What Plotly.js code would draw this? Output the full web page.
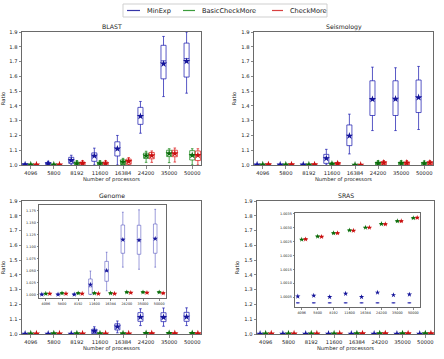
<!DOCTYPE html>
<html>
<head>
<meta charset="utf-8">
<script src="https://cdn.plot.ly/plotly-3.0.1.min.js"></script>
<style>html,body{margin:0;padding:0;background:#fff;}#chart{width:444px;height:359px;}</style>
</head>
<body>
<div id="chart"></div>
<script>
// ---------- data ----------
const categories = ['4096', '5800', '8192', '11600', '16384', '24200', '35000', '50000'];
const seriesNames = ['MinExp', 'BasicCheckMore', 'CheckMore'];
const panelTitles = ['BLAST', 'Seismology', 'Genome', 'SRAS'];
// each row: [lower whisker, q1, median, q3, upper whisker, mean]
const blastMinExp = [
  [1.0, 1.0, 1.002, 1.005, 1.008, 1.003],
  [1.0, 1.003, 1.008, 1.015, 1.025, 1.01],
  [1.0, 1.011, 1.03, 1.052, 1.066, 1.032],
  [1.0, 1.025, 1.06, 1.082, 1.114, 1.062],
  [1.0, 1.061, 1.11, 1.157, 1.2, 1.11],
  [1.215, 1.275, 1.335, 1.39, 1.43, 1.33],
  [1.463, 1.583, 1.705, 1.81, 1.87, 1.685],
  [1.486, 1.595, 1.72, 1.825, 1.9, 1.702]
];
const blastBasic = [
  [1.0, 1.0, 1.001, 1.003, 1.005, 1.002],
  [1.0, 1.0, 1.001, 1.003, 1.005, 1.002],
  [1.0, 1.0, 1.008, 1.02, 1.03, 1.01],
  [1.0, 1.0, 1.008, 1.02, 1.03, 1.01],
  [1.0, 1.003, 1.018, 1.035, 1.045, 1.02],
  [1.018, 1.045, 1.062, 1.08, 1.093, 1.063],
  [1.016, 1.057, 1.078, 1.1, 1.11, 1.078],
  [1.0, 1.034, 1.065, 1.097, 1.11, 1.066]
];
const blastCheck = [
  [1.0, 1.0, 1.001, 1.003, 1.005, 1.002],
  [1.0, 1.0, 1.001, 1.003, 1.005, 1.002],
  [1.0, 1.0, 1.01, 1.02, 1.03, 1.012],
  [1.0, 1.0, 1.01, 1.02, 1.03, 1.011],
  [1.0, 1.005, 1.023, 1.04, 1.05, 1.025],
  [1.018, 1.042, 1.064, 1.085, 1.095, 1.064],
  [1.02, 1.056, 1.078, 1.1, 1.115, 1.078],
  [1.0, 1.03, 1.066, 1.095, 1.11, 1.066]
];
const seisMinExp = [
  [1.0, 1.0, 1.001, 1.003, 1.005, 1.002],
  [1.0, 1.0, 1.001, 1.003, 1.005, 1.002],
  [1.0, 1.0, 1.001, 1.003, 1.005, 1.002],
  [1.0, 1.011, 1.048, 1.072, 1.106, 1.045],
  [1.075, 1.131, 1.2, 1.271, 1.344, 1.197],
  [1.233, 1.335, 1.445, 1.57, 1.662, 1.445],
  [1.233, 1.335, 1.447, 1.57, 1.658, 1.447],
  [1.24, 1.355, 1.457, 1.575, 1.667, 1.457]
];
const seisBasic = [
  [1.0, 1.0, 1.001, 1.003, 1.005, 1.002],
  [1.0, 1.0, 1.001, 1.003, 1.005, 1.002],
  [1.0, 1.0, 1.001, 1.003, 1.005, 1.002],
  [1.0, 1.003, 1.007, 1.012, 1.015, 1.008],
  [1.0, 1.0, 1.0, 1.001, 1.002, 1.001],
  [1.0, 1.0, 1.01, 1.02, 1.03, 1.012],
  [1.0, 1.0, 1.01, 1.02, 1.03, 1.012],
  [1.0, 1.0, 1.008, 1.018, 1.028, 1.01]
];
const seisCheck = [
  [1.0, 1.0, 1.002, 1.004, 1.006, 1.003],
  [1.0, 1.0, 1.002, 1.004, 1.006, 1.003],
  [1.0, 1.0, 1.002, 1.004, 1.006, 1.003],
  [1.0, 1.003, 1.009, 1.015, 1.018, 1.01],
  [1.0, 1.0, 1.0, 1.001, 1.002, 1.001],
  [1.0, 1.0, 1.013, 1.022, 1.03, 1.015],
  [1.0, 1.0, 1.012, 1.02, 1.03, 1.014],
  [1.0, 1.0, 1.013, 1.022, 1.03, 1.015]
];
const genomeMinExp = [
  [1.0, 1.0, 1.0, 1.0005, 1.001, 1.0005],
  [1.0, 1.0, 1.0, 1.0005, 1.001, 1.0005],
  [1.0, 1.0, 1.0, 1.0005, 1.001, 1.0005],
  [1.0, 1.0007, 1.016, 1.0325, 1.049, 1.0207],
  [1.008, 1.0277, 1.048, 1.069, 1.088, 1.05],
  [1.057, 1.0858, 1.115, 1.1445, 1.171, 1.114],
  [1.0526, 1.0837, 1.113, 1.144, 1.176, 1.113],
  [1.057, 1.0858, 1.116, 1.1466, 1.177, 1.116]
];
const genomeBasic = [
  [1.002, 1.002, 1.002, 1.002, 1.002, 1.002],
  [1.003, 1.003, 1.003, 1.003, 1.003, 1.003],
  [1.003, 1.003, 1.003, 1.003, 1.003, 1.003],
  [1.003, 1.003, 1.003, 1.003, 1.003, 1.003],
  [1.003, 1.003, 1.003, 1.003, 1.003, 1.003],
  [1.005, 1.005, 1.005, 1.005, 1.005, 1.005],
  [1.005, 1.005, 1.005, 1.005, 1.005, 1.005],
  [1.005, 1.005, 1.005, 1.005, 1.005, 1.005]
];
const genomeCheck = [
  [1.002, 1.002, 1.002, 1.002, 1.002, 1.002],
  [1.002, 1.002, 1.002, 1.002, 1.002, 1.002],
  [1.002, 1.002, 1.002, 1.002, 1.002, 1.002],
  [1.002, 1.002, 1.002, 1.002, 1.002, 1.002],
  [1.002, 1.002, 1.002, 1.002, 1.002, 1.002],
  [1.004, 1.004, 1.004, 1.004, 1.004, 1.004],
  [1.004, 1.004, 1.004, 1.004, 1.004, 1.004],
  [1.003, 1.003, 1.003, 1.003, 1.003, 1.003]
];
const srasMinExp = [
  [1.0003, 1.0003, 1.0003, 1.0003, 1.0003, 1.00053],
  [1.0003, 1.0003, 1.0003, 1.0003, 1.0003, 1.00056],
  [1.0003, 1.0003, 1.0003, 1.0003, 1.0003, 1.00051],
  [1.0003, 1.0003, 1.0003, 1.0003, 1.0003, 1.00063],
  [1.0003, 1.0003, 1.0003, 1.0003, 1.0003, 1.00051],
  [1.0003, 1.0003, 1.0003, 1.0003, 1.0003, 1.00067],
  [1.0003, 1.0003, 1.0003, 1.0003, 1.0003, 1.00058],
  [1.0003, 1.0003, 1.0003, 1.0003, 1.0003, 1.0006]
];
const srasBasic = [
  [1.00257, 1.00257, 1.00257, 1.00257, 1.00257, 1.00257],
  [1.00268, 1.00268, 1.00268, 1.00268, 1.00268, 1.00268],
  [1.0028, 1.0028, 1.0028, 1.0028, 1.0028, 1.0028],
  [1.0029, 1.0029, 1.0029, 1.0029, 1.0029, 1.0029],
  [1.003, 1.003, 1.003, 1.003, 1.003, 1.003],
  [1.00313, 1.00313, 1.00313, 1.00313, 1.00313, 1.00313],
  [1.00323, 1.00323, 1.00323, 1.00323, 1.00323, 1.00323],
  [1.00334, 1.00334, 1.00334, 1.00334, 1.00334, 1.00334]
];
const srasCheck = [
  [1.00258, 1.00258, 1.00258, 1.00258, 1.00258, 1.00258],
  [1.00267, 1.00267, 1.00267, 1.00267, 1.00267, 1.00267],
  [1.0028, 1.0028, 1.0028, 1.0028, 1.0028, 1.0028],
  [1.00289, 1.00289, 1.00289, 1.00289, 1.00289, 1.00289],
  [1.003, 1.003, 1.003, 1.003, 1.003, 1.003],
  [1.00312, 1.00312, 1.00312, 1.00312, 1.00312, 1.00312],
  [1.00323, 1.00323, 1.00323, 1.00323, 1.00323, 1.00323],
  [1.00335, 1.00335, 1.00335, 1.00335, 1.00335, 1.00335]
];

// ---------- styling ----------
const FONT = 'DejaVu Sans, Liberation Sans, sans-serif';
const W = 444, H = 359;
const boxColors = ['rgba(25,25,175,0.72)', 'rgba(20,135,20,0.75)', 'rgba(220,20,20,0.72)'];
const insetBoxColors = ['rgba(50,50,180,0.6)', 'rgba(20,135,20,0.75)', 'rgba(220,20,20,0.72)'];
const meanColors = ['#14149a', '#0b6b0b', '#c81010'];
const legendColors = ['#3535a8', '#3c9c3c', '#d84040'];
const offsets = [-0.245, 0, 0.245];
const frame = '#6a6a6a';

const panels = [
  {data: [blastMinExp, blastBasic, blastCheck], xa: 'x', ya: 'y'},
  {data: [seisMinExp, seisBasic, seisCheck], xa: 'x2', ya: 'y2'},
  {data: [genomeMinExp, genomeBasic, genomeCheck], xa: 'x3', ya: 'y3'},
  {data: [srasMinExp, srasBasic, srasCheck], xa: 'x4', ya: 'y4'},
  {data: [genomeMinExp, genomeBasic, genomeCheck], xa: 'x5', ya: 'y5', inset: true},
  {data: [srasMinExp, srasBasic, srasCheck], xa: 'x6', ya: 'y6', inset: true}
];

const traces = [];
panels.forEach(p => {
  p.data.forEach((rows, s) => {
    const xs = categories.map((c, i) => i + offsets[s]);
    traces.push({
      type: 'box', xaxis: p.xa, yaxis: p.ya, x: xs,
      lowerfence: rows.map(r => r[0]), q1: rows.map(r => r[1]),
      median: rows.map(r => r[2]), q3: rows.map(r => r[3]),
      upperfence: rows.map(r => r[4]),
      width: 0.22, whiskerwidth: 0.5,
      line: {color: p.inset ? insetBoxColors[s] : boxColors[s], width: p.inset ? 0.8 : 1},
      fillcolor: 'rgba(0,0,0,0)', boxpoints: false,
      showlegend: false, hoverinfo: 'skip', name: seriesNames[s]
    });
    traces.push({
      type: 'scatter', mode: 'markers', xaxis: p.xa, yaxis: p.ya, x: xs,
      y: rows.map(r => r[5]),
      marker: {symbol: 'star', size: p.inset ? 4 : 5.5, color: meanColors[s], line: {width: 0}},
      showlegend: false, hoverinfo: 'skip', name: seriesNames[s]
    });
  });
});

const dx = (a, b) => [a / W, b / W];
const dy = (top, bottom) => [1 - bottom / H, 1 - top / H];

function xAxis(domain, anchor, inset) {
  return {
    domain: domain, anchor: anchor, range: inset ? [-0.42, 7.42] : [-0.38, 7.38],
    tickmode: 'array', tickvals: categories.map((c, i) => i), ticktext: categories,
    showline: true, mirror: true, linecolor: frame, linewidth: 1,
    ticks: 'outside', ticklen: inset ? 1.5 : 2.5, tickcolor: frame, tickwidth: 0.8,
    showgrid: false, zeroline: false,
    tickfont: {family: FONT, size: inset ? 3.4 : 5.2, color: '#222'},
    title: inset ? {text: ''} : {text: 'Number of processors', font: {family: FONT, size: 5.2, color: '#222'}, standoff: 1}
  };
}
function yAxis(domain, anchor) {
  return {
    domain: domain, anchor: anchor, range: [1.0, 1.9], dtick: 0.1, tick0: 1.0, tickformat: '.1f',
    showline: true, mirror: true, linecolor: frame, linewidth: 1,
    ticks: 'outside', ticklen: 2.5, tickcolor: frame, tickwidth: 0.8,
    showgrid: false, zeroline: false,
    tickfont: {family: FONT, size: 5.2, color: '#222'},
    title: {text: 'Ratio', font: {family: FONT, size: 5.2, color: '#222'}, standoff: 4}
  };
}

// legend drawn as a framed key (line sample + label) across the top
const legendFrame = {x0: 123, x1: 327, y0: 4, y1: 17};
const legendLineX = [[127, 140], [183, 195], [272, 283]];
const legendMidY = 10.5;
const shapes = [{type: 'rect', xref: 'paper', yref: 'paper',
  x0: legendFrame.x0 / W, x1: legendFrame.x1 / W, y0: 1 - legendFrame.y1 / H, y1: 1 - legendFrame.y0 / H,
  line: {color: '#cfcfcf', width: 1}, fillcolor: 'rgba(255,255,255,0.9)', layer: 'above'}];
const legendAnns = [];
seriesNames.forEach((n, s) => {
  shapes.push({type: 'line', xref: 'paper', yref: 'paper',
    x0: legendLineX[s][0] / W, x1: legendLineX[s][1] / W, y0: 1 - legendMidY / H, y1: 1 - legendMidY / H,
    line: {color: legendColors[s], width: 1.2}, layer: 'above'});
  legendAnns.push({text: n, xref: 'paper', yref: 'paper', x: (legendLineX[s][1] + 4.5) / W, y: 1 - legendMidY / H,
    xanchor: 'left', yanchor: 'middle', showarrow: false, font: {family: FONT, size: 6.6, color: '#222'}});
});

const layout = {
  width: W, height: H, margin: {l: 0, r: 0, t: 0, b: 0},
  paper_bgcolor: '#fff', plot_bgcolor: '#fff',
  font: {family: FONT, color: '#222'},
  boxmode: 'overlay', showlegend: false,
  xaxis: xAxis(dx(22, 201), 'y'), yaxis: yAxis(dy(32, 165), 'x'),
  xaxis2: xAxis(dx(254, 433), 'y2'), yaxis2: yAxis(dy(32, 165), 'x2'),
  xaxis3: xAxis(dx(22, 201), 'y3'), yaxis3: yAxis(dy(201, 334), 'x3'),
  xaxis4: xAxis(dx(257, 434), 'y4'), yaxis4: yAxis(dy(201, 334), 'x4'),
  xaxis5: xAxis(dx(39, 166), 'y5', true),
  yaxis5: Object.assign(yAxis(dy(205, 298), 'x5'), {range: [0.993, 1.186], dtick: 0.025, tickformat: '.3f',
    ticklen: 1.5, tickfont: {family: FONT, size: 3.4, color: '#222'}, title: {text: ''}}),
  xaxis6: xAxis(dx(295, 420), 'y6', true),
  yaxis6: Object.assign(yAxis(dy(213, 307), 'x6'), {range: [1.00015, 1.00352], dtick: 0.0005, tick0: 1.0005, tickformat: '.4f',
    ticklen: 1.5, tickfont: {family: FONT, size: 3.4, color: '#222'}, title: {text: ''}}),
  shapes: shapes,
  annotations: [
    {text: panelTitles[0], x: 111.5 / W, y: 1 - 27 / H},
    {text: panelTitles[1], x: 343.5 / W, y: 1 - 27 / H},
    {text: panelTitles[2], x: 111.5 / W, y: 1 - 195 / H},
    {text: panelTitles[3], x: 345.5 / W, y: 1 - 195 / H}
  ].map(a => Object.assign(a, {xref: 'paper', yref: 'paper', showarrow: false, xanchor: 'center', yanchor: 'middle',
    font: {family: FONT, size: 6.2, color: '#222'}})).concat(legendAnns)
};

Plotly.newPlot('chart', traces, layout, {displayModeBar: false, staticPlot: true});
</script>
</body>
</html>
